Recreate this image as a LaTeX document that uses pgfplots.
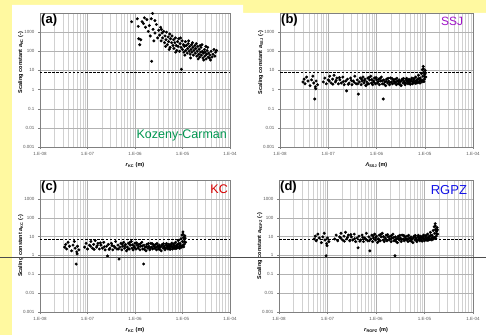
\documentclass[border=0pt]{standalone}
\usepackage{fontspec}
\setmainfont{Liberation Sans}
\usepackage{pgfplots}
\pgfplotsset{compat=1.18}
\definecolor{bgyellow}{RGB}{255,249,160}
\definecolor{kcgreen}{RGB}{0,150,80}
\definecolor{ssjpurple}{RGB}{160,20,200}
\definecolor{kcred}{RGB}{215,0,0}
\definecolor{rgpzblue}{RGB}{20,20,230}

\pgfplotsset{
 myPanel/.style={
  scale only axis,
  xmin=1e-8, xmax=1e-4, ymin=1e-3, ymax=1e4,
  axis line style={black!50},
  xtick={1e-8,1e-7,1e-6,1e-5,1e-4},
  xticklabels={1.E-08,1.E-07,1.E-06,1.E-05,1.E-04},
  ytick={1e-3,1e-2,1e-1,1,10,100,1000},
  yticklabels={0.001,0.01,0.1,1,10,100,1000},
  minor xtick={2e-8,3e-8,4e-8,5e-8,6e-8,7e-8,8e-8,9e-8,2e-7,3e-7,4e-7,5e-7,6e-7,7e-7,8e-7,9e-7,2e-6,3e-6,4e-6,5e-6,6e-6,7e-6,8e-6,9e-6,2e-5,3e-5,4e-5,5e-5,6e-5,7e-5,8e-5,9e-5},
  xmajorgrids, xminorgrids, ymajorgrids,
  major grid style={black!30, line width=0.35pt},
  minor grid style={black!18, line width=0.3pt},
  tick style={black!50}, major tick length=2pt, minor tick length=0pt,
  tick align=outside, xtick pos=left, ytick pos=left,
  ticklabel style={font=\fontsize{4.5}{5}\selectfont, text=black!65},
  xlabel style={font=\fontsize{5.5}{6}\selectfont\bfseries},
  ylabel style={font=\fontsize{5.5}{6}\selectfont\bfseries},
  ylabel shift=-7pt,
  axis background/.style={fill=white},
 },
 myPts/.style={only marks, mark=*, mark size=1.3pt, black},
 myDash/.style={black, line width=0.7pt, dash pattern=on 2.5pt off 1.6pt},
}

\begin{document}
\begin{tikzpicture}
\path[use as bounding box] (0,0) rectangle (486pt,335pt);
\clip (0,0) rectangle (486pt,335pt);
\fill[bgyellow] (0,0) rectangle (486pt,335pt);
\fill[white] (12pt,0) -- (12pt,330pt) -- (243pt,330pt) -- (243pt,322pt) -- (486pt,322pt) -- (486pt,0) -- cycle;

% ---------------- (a)
\begin{loglogaxis}[myPanel, at={(40pt,188pt)}, anchor=south west, width=190pt, height=134pt,
  xlabel={\textit{r}\textsubscript{KC} (m)},
  ylabel={Scaling constant \textit{a}\textsubscript{KC} (-)},
  ylabel style={at={(ticklabel cs:0.63)}}]
\addplot[myDash] coordinates {(1e-8,8) (1e-4,8)};
\addplot[myPts] coordinates {
(8.5e-7,3500) (1.12e-6,5000) (1.17e-6,2000) (1.2e-6,450) (1.26e-6,220) (1.32e-6,400)
(1.41e-6,3500) (1.51e-6,2800) (1.58e-6,5600) (1.66e-6,1800) (1.78e-6,4500) (1.9e-6,1100)
(2.0e-6,2200) (2.1e-6,630) (2.24e-6,30) (2.34e-6,9500) (2.4e-6,1400) (2.5e-6,350)
(2.63e-6,900) (2.82e-6,2500) (3.0e-6,500) (3.16e-6,1250) (3.3e-6,700) (3.47e-6,1800)
(3.55e-6,350) (3.7e-6,900) (3.8e-6,500) (4.0e-6,1100) (4.2e-6,280) (4.3e-6,630)
(4.5e-6,400) (4.6e-6,1000) (4.8e-6,220) (5.0e-6,560) (5.1e-6,320) (5.4e-6,800)
(5.5e-6,160) (5.6e-6,450) (5.9e-6,280) (6.0e-6,630) (6.3e-6,200) (6.5e-6,400)
(6.6e-6,140) (6.9e-6,280) (7.1e-6,500) (7.4e-6,200) (7.6e-6,110) (7.9e-6,320)
(8.1e-6,180) (8.3e-6,450) (8.7e-6,100) (8.9e-6,250) (9.3e-6,160) (9.5e-6,11.5)
(9.8e-6,350) (1.0e-5,125) (1.05e-5,220) (1.07e-5,90) (1.1e-5,180) (1.15e-5,320)
(1.17e-5,110) (1.2e-5,200) (1.26e-5,80) (1.29e-5,140) (1.32e-5,250) (1.38e-5,100)
(1.41e-5,180) (1.45e-5,70) (1.51e-5,125) (1.55e-5,220) (1.58e-5,90) (1.66e-5,160)
(1.7e-5,63) (1.74e-5,110) (1.82e-5,200) (1.86e-5,80) (1.9e-5,140) (2.0e-5,56)
(2.04e-5,100) (2.1e-5,180) (2.2e-5,70) (2.24e-5,125) (2.3e-5,50) (2.4e-5,90)
(2.45e-5,160) (2.5e-5,63) (2.63e-5,100) (2.7e-5,45) (2.75e-5,80) (2.9e-5,125)
(2.95e-5,56) (3.0e-5,90) (3.16e-5,40) (3.2e-5,70) (3.3e-5,110) (3.47e-5,50)
(3.55e-5,80) (3.7e-5,45) (3.8e-5,63) (4.0e-5,100) (4.2e-5,50) (4.4e-5,70)
(4.6e-5,125) (4.8e-5,56) (5.0e-5,90) (5.2e-5,110) (5.25e-6,125) (7.2e-6,90)
(9.1e-6,500) (1.12e-5,63) (1.35e-5,350) (1.62e-5,280) (1.95e-5,250) (2.35e-5,200)
(2.8e-5,35) (3.4e-5,160) (3.9e-5,35) (4.4e-6,180) (3.6e-6,1400) (2.63e-6,4000)
(2.2e-6,5000) (1.48e-5,45) (2.14e-5,40) (2.57e-5,220) (3.1e-5,180)
};
\node[anchor=north west, font=\fontsize{13}{13}\selectfont\bfseries, inner sep=1pt] at (rel axis cs:0,1) {(a)};
\node[anchor=south east, font=\fontsize{12.5}{13}\selectfont, text=kcgreen, inner sep=1pt] at (rel axis cs:0.99,0.035) {Kozeny-Carman};
\end{loglogaxis}

% ---------------- (b)
\begin{loglogaxis}[myPanel, at={(280pt,188pt)}, anchor=south west, width=193pt, height=134pt,
  xlabel={\textit{Λ}\textsubscript{SSJ} (m)},
  ylabel={Scaling constant \textit{a}\textsubscript{SSJ} (-)},
  ylabel style={at={(ticklabel cs:0.63)}}]
\addplot[myDash] coordinates {(1e-8,8) (1e-4,8)};
\addplot[myPts] coordinates {
(3.0e-8,2.5) (3.16e-8,3.5) (3.3e-8,2.0) (3.55e-8,4.5) (3.8e-8,2.8) (4.2e-8,1.6)
(4.5e-8,3.2) (4.8e-8,5.0) (5.0e-8,2.2) (5.25e-8,0.32) (5.4e-8,1.4) (5.5e-8,1.1)
(5.6e-8,2.8) (6.0e-8,1.8) (7.9e-8,2.5) (8.5e-8,4.0) (9.1e-8,2.0) (1.0e-7,3.2)
(1.07e-7,5.0) (1.15e-7,2.2) (1.23e-7,3.5) (1.32e-7,5.6) (1.41e-7,2.5) (1.51e-7,4.0)
(1.62e-7,2.0) (1.74e-7,3.2) (1.86e-7,2.2) (2.0e-7,4.5) (2.14e-7,1.8) (2.3e-7,2.8)
(2.4e-7,0.85) (2.5e-7,3.5) (2.7e-7,2.2) (2.9e-7,4.0) (3.1e-7,1.8) (3.3e-7,2.8)
(3.55e-7,5.0) (3.8e-7,2.0) (4.0e-7,3.2) (4.2e-7,0.58) (4.4e-7,2.5) (4.6e-7,4.0)
(4.8e-7,1.8) (5.0e-7,2.8) (5.25e-7,4.5) (5.5e-7,2.2) (5.75e-7,3.5) (6.0e-7,1.6)
(6.3e-7,2.5) (6.6e-7,4.0) (6.9e-7,2.0) (7.2e-7,3.2) (7.6e-7,5.0) (7.9e-7,2.2)
(8.3e-7,1.8) (8.7e-7,2.8) (9.1e-7,4.0) (9.5e-7,2.0) (1.0e-6,3.2) (1.05e-6,2.2)
(1.1e-6,3.5) (1.15e-6,1.8) (1.2e-6,2.8) (1.26e-6,4.5) (1.32e-6,2.0) (1.38e-6,0.32)
(1.41e-6,3.2) (1.48e-6,2.5) (1.55e-6,1.6) (1.62e-6,3.5) (1.7e-6,2.2) (1.78e-6,2.8)
(1.86e-6,1.8) (1.95e-6,4.0) (2.04e-6,2.5) (2.14e-6,2.0) (2.24e-6,3.2) (2.34e-6,2.2)
(2.45e-6,3.5) (2.57e-6,1.8) (2.7e-6,2.8) (2.82e-6,2.0) (2.95e-6,3.2) (3.1e-6,2.5)
(3.24e-6,1.6) (3.4e-6,3.5) (3.55e-6,2.2) (3.7e-6,2.8) (3.9e-6,1.8) (4.1e-6,3.2)
(4.3e-6,2.5) (4.5e-6,2.0) (4.7e-6,3.5) (4.9e-6,2.2) (5.1e-6,2.8) (5.4e-6,4.0)
(5.6e-6,2.0) (5.9e-6,3.2) (6.2e-6,2.5) (6.5e-6,4.5) (6.8e-6,2.2) (7.1e-6,3.5)
(7.4e-6,5.6) (7.8e-6,2.8) (8.1e-6,4.0) (8.5e-6,7.0) (8.7e-6,2.5) (8.9e-6,11)
(9.1e-6,5.0) (9.3e-6,16) (9.5e-6,8.0) (9.8e-6,3.5) (1.0e-5,6.3) (1.02e-5,10)
(1.05e-5,4.5)
(1.05e-7,2.8) (1.25e-7,1.9) (1.45e-7,3.0) (1.7e-7,4.2) (2.05e-7,2.6) (2.6e-7,1.9)
(3.0e-7,3.0) (3.45e-7,2.4) (4.1e-7,2.0) (4.9e-7,3.6) (5.6e-7,2.9) (6.4e-7,1.9)
(7.0e-7,4.3) (8.0e-7,3.3) (8.9e-7,2.4) (9.8e-7,4.2) (1.08e-6,2.6) (1.18e-6,3.8)
(1.3e-6,2.9) (1.44e-6,1.9) (1.58e-6,2.7) (1.74e-6,3.9) (1.9e-6,2.3) (2.1e-6,3.8)
(2.3e-6,2.7) (2.5e-6,2.4) (2.64e-6,3.9) (2.88e-6,2.6) (3.02e-6,1.9) (3.32e-6,2.9)
(3.62e-6,3.8) (3.8e-6,2.4) (4.0e-6,2.1) (4.2e-6,3.9) (4.4e-6,2.9) (4.6e-6,2.4)
(4.8e-6,3.0) (5.0e-6,1.9) (5.25e-6,3.4) (5.5e-6,2.6) (5.75e-6,2.3) (6.0e-6,3.8)
(6.35e-6,2.1) (6.65e-6,3.0) (6.95e-6,2.7) (7.25e-6,2.3) (7.6e-6,3.8) (7.95e-6,2.2)
(8.3e-6,3.1) (9.0e-6,3.0) (9.6e-6,2.6) (9.9e-6,4.8) (1.04e-5,7.5) (9.4e-6,12)
};
\node[anchor=north west, font=\fontsize{13}{13}\selectfont\bfseries, inner sep=1pt] at (rel axis cs:0,1) {(b)};
\node[anchor=north east, font=\fontsize{12}{13}\selectfont, text=ssjpurple, inner sep=1pt] at (rel axis cs:0.955,0.975) {SSJ};
\end{loglogaxis}

% ---------------- (c)
\begin{loglogaxis}[myPanel, at={(40pt,23pt)}, anchor=south west, width=190pt, height=132pt,
  xlabel={\textit{r}\textsubscript{KC} (m)},
  ylabel={Scaling constant \textit{a}\textsubscript{KC} (-)}]
\addplot[myDash] coordinates {(1e-8,7.5) (1e-4,7.5)};
\addplot[myPts] coordinates {
(3.3e-8,2.75) (3.48e-8,3.85) (3.63e-8,2.2) (3.9e-8,4.95) (4.18e-8,3.08) (4.62e-8,1.76)
(4.95e-8,3.52) (5.28e-8,5.5) (5.5e-8,2.42) (5.78e-8,0.35) (5.94e-8,1.54) (6.05e-8,1.21)
(6.16e-8,3.08) (6.6e-8,1.98) (8.7e-8,2.75) (9.35e-8,4.4) (1.0e-7,2.2) (1.1e-7,3.52)
(1.18e-7,5.5) (1.27e-7,2.42) (1.35e-7,3.85) (1.45e-7,6.16) (1.55e-7,2.75) (1.66e-7,4.4)
(1.78e-7,2.2) (1.91e-7,3.52) (2.05e-7,2.42) (2.2e-7,4.95) (2.35e-7,1.98) (2.53e-7,3.08)
(2.64e-7,0.94) (2.75e-7,3.85) (2.97e-7,2.42) (3.19e-7,4.4) (3.41e-7,1.98) (3.63e-7,3.08)
(3.91e-7,5.5) (4.18e-7,2.2) (4.4e-7,3.52) (4.62e-7,0.64) (4.84e-7,2.75) (5.06e-7,4.4)
(5.28e-7,1.98) (5.5e-7,3.08) (5.78e-7,4.95) (6.05e-7,2.42) (6.33e-7,3.85) (6.6e-7,1.76)
(6.93e-7,2.75) (7.26e-7,4.4) (7.59e-7,2.2) (7.92e-7,3.52) (8.36e-7,5.5) (8.69e-7,2.42)
(9.13e-7,1.98) (9.57e-7,3.08) (1.0e-6,4.4) (1.05e-6,2.2) (1.1e-6,3.52) (1.16e-6,2.42)
(1.21e-6,3.85) (1.27e-6,1.98) (1.32e-6,3.08) (1.39e-6,4.95) (1.45e-6,2.2) (1.52e-6,0.35)
(1.55e-6,3.52) (1.63e-6,2.75) (1.71e-6,1.76) (1.78e-6,3.85) (1.87e-6,2.42) (1.96e-6,3.08)
(2.05e-6,1.98) (2.15e-6,4.4) (2.24e-6,2.75) (2.35e-6,2.2) (2.46e-6,3.52) (2.57e-6,2.42)
(2.7e-6,3.85) (2.83e-6,1.98) (2.97e-6,3.08) (3.1e-6,2.2) (3.25e-6,3.52) (3.41e-6,2.75)
(3.56e-6,1.76) (3.74e-6,3.85) (3.91e-6,2.42) (4.07e-6,3.08) (4.29e-6,1.98) (4.51e-6,3.52)
(4.73e-6,2.75) (4.95e-6,2.2) (5.17e-6,3.85) (5.39e-6,2.42) (5.61e-6,3.08) (5.94e-6,4.4)
(6.16e-6,2.2) (6.49e-6,3.52) (6.82e-6,2.75) (7.15e-6,4.95) (7.48e-6,2.42) (7.81e-6,3.85)
(8.14e-6,6.16) (8.58e-6,3.08) (8.91e-6,4.4) (9.35e-6,7.7) (9.57e-6,2.75) (9.79e-6,12.1)
(1.0e-5,5.5) (1.02e-5,17.6) (1.05e-5,8.8) (1.08e-5,3.85) (1.1e-5,6.93) (1.12e-5,11)
(1.16e-5,4.95)
(1.16e-7,3.08) (1.38e-7,2.09) (1.6e-7,3.3) (1.87e-7,4.62) (2.26e-7,2.86) (2.86e-7,2.09)
(3.3e-7,3.3) (3.8e-7,2.64) (4.51e-7,2.2) (5.39e-7,3.96) (6.16e-7,3.19) (7.04e-7,2.09)
(7.7e-7,4.73) (8.8e-7,3.63) (9.79e-7,2.64) (1.08e-6,4.62) (1.19e-6,2.86) (1.3e-6,4.18)
(1.43e-6,3.19) (1.58e-6,2.09) (1.74e-6,2.97) (1.91e-6,4.29) (2.09e-6,2.53) (2.31e-6,4.18)
(2.53e-6,2.97) (2.75e-6,2.64) (2.9e-6,4.29) (3.17e-6,2.86) (3.32e-6,2.09) (3.65e-6,3.19)
(3.98e-6,4.18) (4.18e-6,2.64) (4.4e-6,2.31) (4.62e-6,4.29) (4.84e-6,3.19) (5.06e-6,2.64)
(5.28e-6,3.3) (5.5e-6,2.09) (5.78e-6,3.74) (6.05e-6,2.86) (6.33e-6,2.53) (6.6e-6,4.18)
(6.99e-6,2.31) (7.32e-6,3.3) (7.65e-6,2.97) (7.98e-6,2.53) (8.36e-6,4.18) (8.75e-6,2.42)
(9.13e-6,3.41) (9.9e-6,3.3) (1.06e-5,2.86) (1.09e-5,5.28) (1.14e-5,8.25) (1.03e-5,13.2)
};
\node[anchor=north west, font=\fontsize{13}{13}\selectfont\bfseries, inner sep=1pt] at (rel axis cs:0,1) {(c)};
\node[anchor=north east, font=\fontsize{12.5}{13}\selectfont, text=kcred, inner sep=1pt] at (rel axis cs:0.995,0.97) {KC};
\end{loglogaxis}

% ---------------- (d)
\begin{loglogaxis}[myPanel, at={(279pt,23pt)}, anchor=south west, width=194pt, height=132pt,
  xlabel={\textit{r}\textsubscript{RGPZ} (m)},
  ylabel={Scaling constant \textit{a}\textsubscript{RGPZ} (-)}]
\addplot[myDash] coordinates {(1e-8,7.5) (1e-4,7.5)};
\addplot[myPts] coordinates {
(5.34e-8,7.5) (5.62e-8,10.5) (5.87e-8,6.0) (6.32e-8,13.5) (6.76e-8,8.4) (7.48e-8,4.8)
(8.01e-8,9.6) (8.54e-8,15) (8.9e-8,6.6) (9.35e-8,0.96) (9.61e-8,4.2) (9.79e-8,3.3)
(9.97e-8,8.4) (1.07e-7,5.4) (1.41e-7,7.5) (1.51e-7,12) (1.62e-7,6.0) (1.78e-7,9.6)
(1.9e-7,15) (2.05e-7,6.6) (2.19e-7,10.5) (2.35e-7,16.8) (2.51e-7,7.5) (2.69e-7,12)
(2.88e-7,6.0) (3.1e-7,9.6) (3.31e-7,6.6) (3.56e-7,13.5) (3.81e-7,5.4) (4.09e-7,8.4)
(4.27e-7,2.55) (4.45e-7,10.5) (4.81e-7,6.6) (5.16e-7,12) (5.52e-7,5.4) (5.87e-7,8.4)
(6.32e-7,15) (6.76e-7,6.0) (7.12e-7,9.6) (7.48e-7,1.74) (7.83e-7,7.5) (8.19e-7,12)
(8.54e-7,5.4) (8.9e-7,8.4) (9.35e-7,13.5) (9.79e-7,6.6) (1.02e-6,10.5) (1.07e-6,4.8)
(1.12e-6,7.5) (1.17e-6,12) (1.23e-6,6.0) (1.28e-6,9.6) (1.35e-6,15) (1.41e-6,6.6)
(1.48e-6,5.4) (1.55e-6,8.4) (1.62e-6,12) (1.69e-6,6.0) (1.78e-6,9.6) (1.87e-6,6.6)
(1.96e-6,10.5) (2.05e-6,5.4) (2.14e-6,8.4) (2.24e-6,13.5) (2.35e-6,6.0) (2.46e-6,0.96)
(2.51e-6,9.6) (2.63e-6,7.5) (2.76e-6,4.8) (2.88e-6,10.5) (3.03e-6,6.6) (3.17e-6,8.4)
(3.31e-6,5.4) (3.47e-6,12) (3.63e-6,7.5) (3.81e-6,6.0) (3.99e-6,9.6) (4.17e-6,6.6)
(4.36e-6,10.5) (4.57e-6,5.4) (4.81e-6,8.4) (5.02e-6,6.0) (5.25e-6,9.6) (5.52e-6,7.5)
(5.77e-6,4.8) (6.05e-6,10.5) (6.32e-6,6.6) (6.59e-6,8.4) (6.94e-6,5.4) (7.3e-6,9.6)
(7.65e-6,7.5) (8.01e-6,6.0) (8.37e-6,10.5) (8.72e-6,6.6) (9.08e-6,8.4) (9.61e-6,12)
(9.97e-6,6.0) (1.05e-5,9.6) (1.1e-5,7.5) (1.16e-5,13.5) (1.21e-5,6.6) (1.26e-5,10.5)
(1.32e-5,16.8) (1.39e-5,8.4) (1.44e-5,12) (1.51e-5,21) (1.55e-5,7.5) (1.58e-5,33)
(1.62e-5,15) (1.66e-5,48) (1.69e-5,24) (1.74e-5,10.5) (1.78e-5,18.9) (1.82e-5,30)
(1.87e-5,13.5)
(1.87e-7,8.4) (2.22e-7,5.7) (2.58e-7,9.0) (3.03e-7,12.6) (3.65e-7,7.8) (4.63e-7,5.7)
(5.34e-7,9.0) (6.14e-7,7.2) (7.3e-7,6.0) (8.72e-7,10.8) (9.97e-7,8.7) (1.14e-6,5.7)
(1.25e-6,12.9) (1.42e-6,9.9) (1.58e-6,7.2) (1.74e-6,12.6) (1.92e-6,7.8) (2.1e-6,11.4)
(2.31e-6,8.7) (2.56e-6,5.7) (2.81e-6,8.1) (3.1e-6,11.7) (3.38e-6,6.9) (3.74e-6,11.4)
(4.09e-6,8.1) (4.45e-6,7.2) (4.7e-6,11.7) (5.13e-6,7.8) (5.38e-6,5.7) (5.91e-6,8.7)
(6.44e-6,11.4) (6.76e-6,7.2) (7.12e-6,6.3) (7.48e-6,11.7) (7.83e-6,8.7) (8.19e-6,7.2)
(8.54e-6,9.0) (8.9e-6,5.7) (9.35e-6,10.2) (9.79e-6,7.8) (1.02e-5,6.9) (1.07e-5,11.4)
(1.13e-5,6.3) (1.18e-5,9.0) (1.24e-5,8.1) (1.29e-5,6.9) (1.35e-5,11.4) (1.42e-5,6.6)
(1.48e-5,9.3) (1.6e-5,9.0) (1.71e-5,7.8) (1.76e-5,14.4) (1.85e-5,22.5) (1.67e-5,36)
};
\node[anchor=north west, font=\fontsize{13}{13}\selectfont\bfseries, inner sep=1pt] at (rel axis cs:0,1) {(d)};
\node[anchor=north east, font=\fontsize{13}{13}\selectfont, text=rgpzblue, inner sep=1pt] at (rel axis cs:0.975,0.97) {RGPZ};
\end{loglogaxis}

\draw[black!70, line width=0.6pt] (0,78pt) -- (486pt,78pt);
\end{tikzpicture}
\end{document}
